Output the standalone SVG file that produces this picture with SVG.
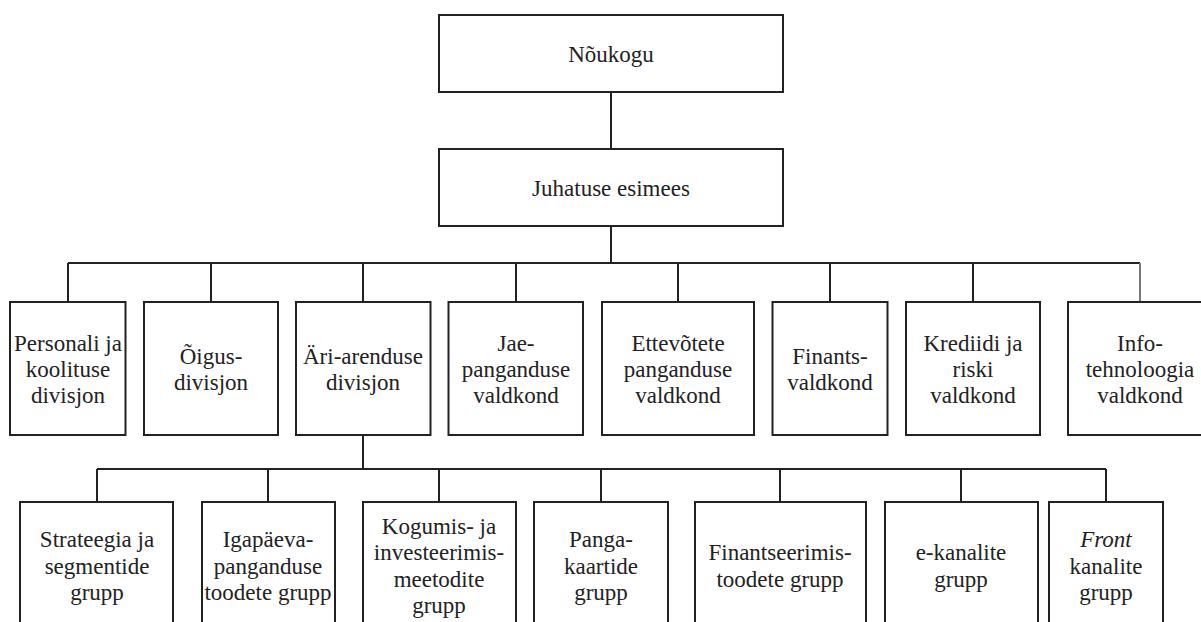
<svg xmlns="http://www.w3.org/2000/svg" width="1201" height="622" viewBox="0 0 1201 622">
<rect width="1201" height="622" fill="#ffffff"/>
<g id="connectors" fill="none" stroke="#222222" stroke-width="2">
<path d="M611 92V149M611 226V263M68 263H1140M68 263V302M211 263V302M363 263V302M516 263V302M678 263V302M830 263V302M973 263V302"/>
<path d="M1140 263V302" stroke="#777777"/>
<path d="M363 435V469M97 469H1106M97 469V502M268 469V502M439 469V502M601 469V502M780 469V502M961 469V502M1106 469V502"/>
</g>
<g id="nodes" font-family="Tinos, Liberation Serif, Times New Roman, serif" font-size="23" fill="#222222" text-anchor="middle">
<g id="n-noukogu"><rect x="439" y="15" width="344" height="77" fill="#fff" stroke="#222" stroke-width="2"/><text x="611" y="62">Nõukogu</text></g>
<g id="n-juhatuse"><rect x="439" y="149" width="344" height="77" fill="#fff" stroke="#222" stroke-width="2"/><text x="611" y="196">Juhatuse esimees</text></g>
<g id="n-personali"><rect x="10" y="302" width="115.5" height="133" fill="#fff" stroke="#222" stroke-width="2"/><text x="68" y="351">Personali ja</text><text x="68" y="377">koolituse</text><text x="68" y="403">divisjon</text></g>
<g id="n-oigus"><rect x="144" y="302" width="134" height="133" fill="#fff" stroke="#222" stroke-width="2"/><text x="211" y="364">Õigus-</text><text x="211" y="390">divisjon</text></g>
<g id="n-ari"><rect x="296" y="302" width="134.5" height="133" fill="#fff" stroke="#222" stroke-width="2"/><text x="363" y="364">Äri-arenduse</text><text x="363" y="390">divisjon</text></g>
<g id="n-jae"><rect x="448.5" y="302" width="134.5" height="133" fill="#fff" stroke="#222" stroke-width="2"/><text x="516" y="351">Jae-</text><text x="516" y="377">panganduse</text><text x="516" y="403">valdkond</text></g>
<g id="n-ettevotete"><rect x="602" y="302" width="152" height="133" fill="#fff" stroke="#222" stroke-width="2"/><text x="678" y="351">Ettevõtete</text><text x="678" y="377">panganduse</text><text x="678" y="403">valdkond</text></g>
<g id="n-finants"><rect x="772.5" y="302" width="115" height="133" fill="#fff" stroke="#222" stroke-width="2"/><text x="830" y="364">Finants-</text><text x="830" y="390">valdkond</text></g>
<g id="n-krediidi"><rect x="906" y="302" width="134" height="133" fill="#fff" stroke="#222" stroke-width="2"/><text x="973" y="351">Krediidi ja</text><text x="973" y="377">riski</text><text x="973" y="403">valdkond</text></g>
<g id="n-info"><rect x="1068" y="302" width="144" height="133" fill="#fff" stroke="#222" stroke-width="2"/><text x="1140" y="351">Info-</text><text x="1140" y="377">tehnoloogia</text><text x="1140" y="403">valdkond</text></g>
<g id="n-strateegia"><rect x="20" y="502" width="153" height="140" fill="#fff" stroke="#222" stroke-width="2"/><text x="97" y="547">Strateegia ja</text><text x="97" y="573.5">segmentide</text><text x="97" y="600">grupp</text></g>
<g id="n-igapaeva"><rect x="202" y="502" width="133" height="140" fill="#fff" stroke="#222" stroke-width="2"/><text x="268" y="547">Igapäeva-</text><text x="268" y="573.5">panganduse</text><text x="268" y="600">toodete grupp</text></g>
<g id="n-kogumis"><rect x="363" y="502" width="153" height="140" fill="#fff" stroke="#222" stroke-width="2"/><text x="439" y="533.5">Kogumis- ja</text><text x="439" y="560">investeerimis-</text><text x="439" y="586.5">meetodite</text><text x="439" y="613">grupp</text></g>
<g id="n-panga"><rect x="534" y="502" width="134" height="140" fill="#fff" stroke="#222" stroke-width="2"/><text x="601" y="547">Panga-</text><text x="601" y="573.5">kaartide</text><text x="601" y="600">grupp</text></g>
<g id="n-finantseerimis"><rect x="695" y="502" width="171" height="140" fill="#fff" stroke="#222" stroke-width="2"/><text x="780" y="560">Finantseerimis-</text><text x="780" y="586.5">toodete grupp</text></g>
<g id="n-ekanalite"><rect x="885" y="502" width="153" height="140" fill="#fff" stroke="#222" stroke-width="2"/><text x="961" y="560">e-kanalite</text><text x="961" y="586.5">grupp</text></g>
<g id="n-front"><rect x="1049" y="502" width="114" height="140" fill="#fff" stroke="#222" stroke-width="2"/><text x="1106" y="547" font-style="italic">Front</text><text x="1106" y="573.5">kanalite</text><text x="1106" y="600">grupp</text></g>
</g>
</svg>
